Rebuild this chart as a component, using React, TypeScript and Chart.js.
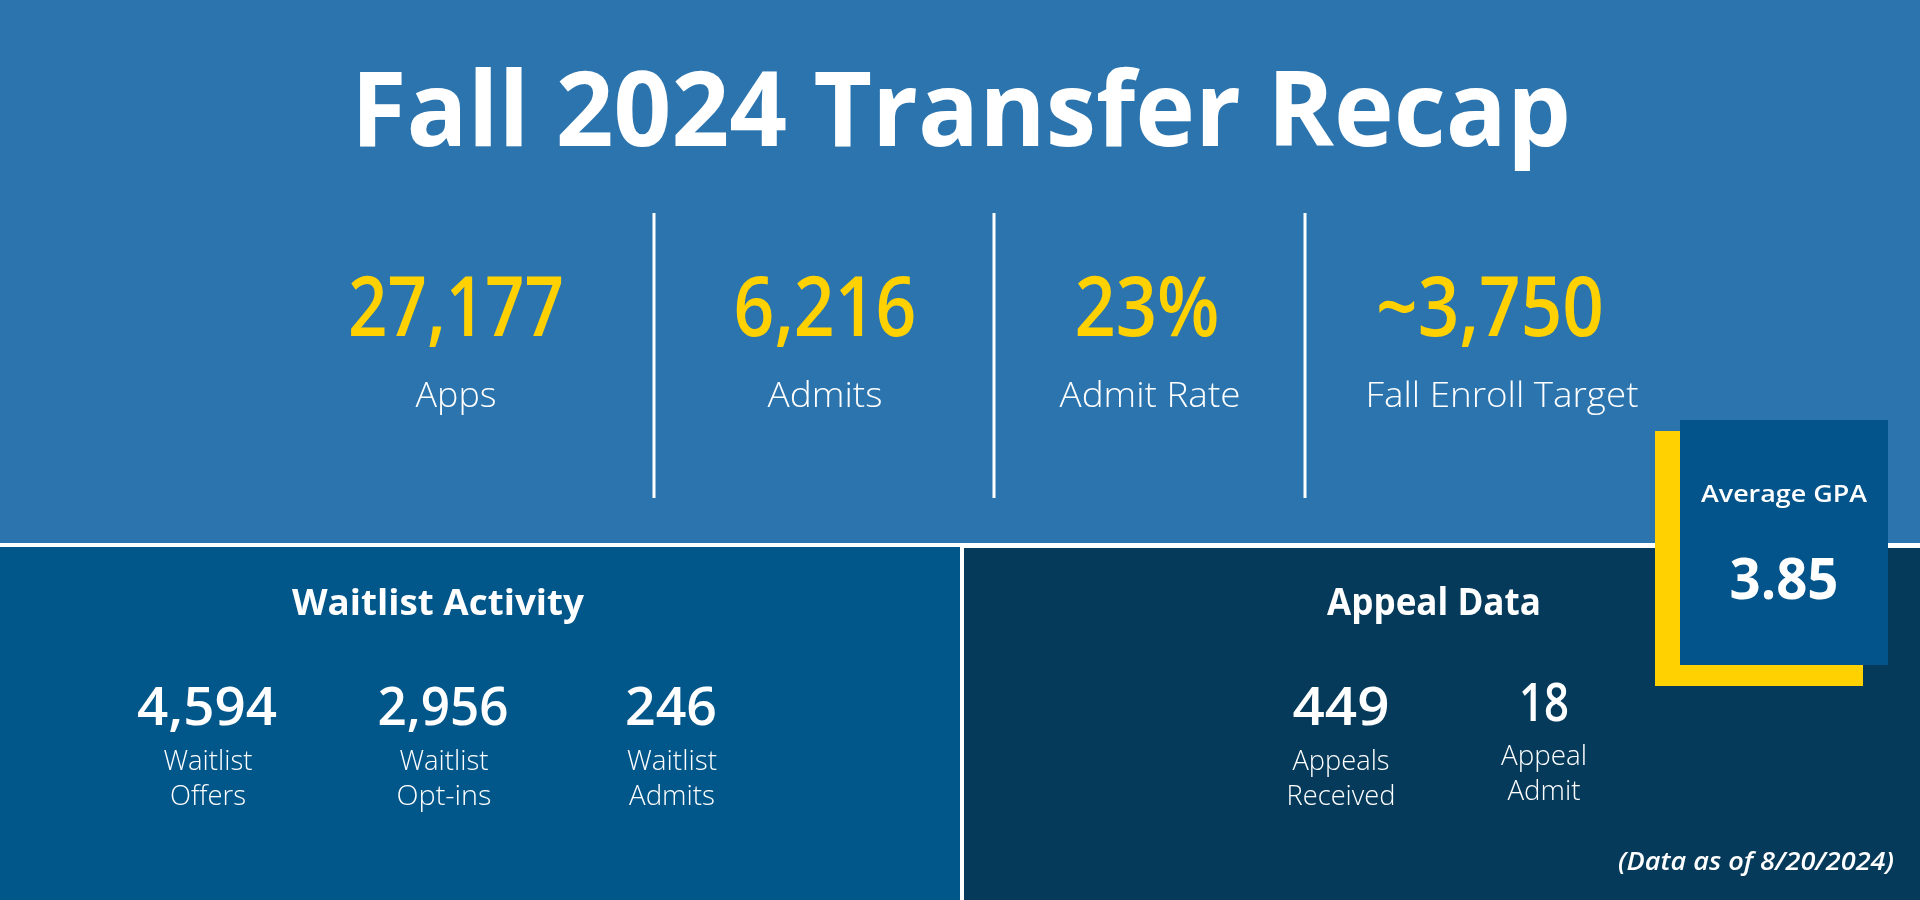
import React, { useEffect, useRef } from "react";
import { Chart, registerables } from "chart.js";

Chart.register(...registerables);

// ---------- data ----------
const titleText = "Fall 2024 Transfer Recap";
const topValues = [27177, 6216, 23, 3750];
const topLabels = ["Apps", "Admits", "Admit Rate", "Fall Enroll Target"];
const waitlistTitle = "Waitlist Activity";
const waitlistValues = [4594, 2956, 246];
const waitlistLabels = [
  ["Waitlist", "Offers"],
  ["Waitlist", "Opt-ins"],
  ["Waitlist", "Admits"],
];
const appealTitle = "Appeal Data";
const appealValues = [449, 18];
const appealLabels = [
  ["Appeals", "Received"],
  ["Appeal", "Admit"],
];
const gpaLabel = "Average GPA";
const gpaValue = 3.85;
const dataNote = "(Data as of 8/20/2024)";

// ---------- formatting ----------
const fmt = (n: number) => n.toLocaleString("en-US");
const topFormat = [
  (n: number) => fmt(n),
  (n: number) => fmt(n),
  (n: number) => `${n}%`,
  (n: number) => `~${fmt(n)}`,
];

// ---------- layout & styles ----------
const W = 1920;
const H = 900;
const FONT = '"Open Sans", "Noto Sans", sans-serif';
const C = {
  top: "#2b74ae",
  left: "#01568a",
  right: "#053a5b",
  gpaBox: "#03548a",
  yellow: "#ffd100",
  white: "#ffffff",
};
const topLayout = {
  centers: [456, 825, 1147, 1490],
  labelCenters: [456, 825, 1150, 1502],
  valueWidths: [216, 183, 145, 228],
  labelWidths: [81, 115, 181, 273],
  valueBaseline: 336,
  labelBaseline: 407,
  dividers: [654, 994, 1305],
};
const waitLayout = {
  titleX: 438,
  centers: [207, 443, 671],
  valueWidths: [140, 131, 92],
  labelWidths: [
    [89, 76],
    [89, 95],
    [90, 86],
  ],
};
const appealLayout = {
  titleX: 1434,
  centers: [1341, 1544],
  valueBaselines: [725, 721],
  valueWidths: [97, 50],
  labelBaselines: [
    [770, 805],
    [765, 800],
  ],
  labelWidths: [
    [97, 109],
    [86, 73],
  ],
};

type TextOpts = {
  size: number;
  weight?: number | string;
  style?: string;
  width?: number;
  align?: "center" | "right" | "left";
  color?: string;
};

function drawText(
  ctx: CanvasRenderingContext2D,
  text: string,
  x: number,
  y: number,
  o: TextOpts
) {
  ctx.save();
  ctx.font = `${o.style || "normal"} ${o.weight || 400} ${o.size}px ${FONT}`;
  ctx.fillStyle = o.color || C.white;
  ctx.textBaseline = "alphabetic";
  ctx.textAlign = o.align || "center";
  const w = ctx.measureText(text).width;
  const sx = o.width && w > 0 ? o.width / w : 1;
  ctx.translate(x, y);
  ctx.scale(sx, 1);
  ctx.fillText(text, 0, 0);
  ctx.restore();
}

const infographicPlugin = {
  id: "infographic",
  beforeDraw(chart: Chart) {
    const ctx = chart.ctx;
    ctx.save();
    // backgrounds
    ctx.fillStyle = C.top;
    ctx.fillRect(0, 0, W, 546);
    ctx.fillStyle = C.white;
    ctx.fillRect(0, 543, W, 4);
    ctx.fillStyle = C.left;
    ctx.fillRect(0, 547, 960, H - 547);
    ctx.fillStyle = C.white;
    ctx.fillRect(960, 545, 4, H - 545);
    ctx.fillStyle = C.right;
    ctx.fillRect(964, 548, W - 964, H - 548);

    // top dividers
    ctx.fillStyle = C.white;
    topLayout.dividers.forEach((x) => ctx.fillRect(x - 1.5, 213, 3, 285));

    // title
    drawText(ctx, titleText, 961, 146, { size: 104, weight: 700, width: 1220 });

    // top stats
    topValues.forEach((v, i) => {
      drawText(ctx, topFormat[i](v), topLayout.centers[i], topLayout.valueBaseline, {
        size: 83,
        weight: 600,
        width: topLayout.valueWidths[i],
        color: C.yellow,
      });
      drawText(ctx, topLabels[i], topLayout.labelCenters[i], topLayout.labelBaseline, {
        size: 35,
        weight: 300,
        width: topLayout.labelWidths[i],
      });
    });

    // waitlist
    drawText(ctx, waitlistTitle, waitLayout.titleX, 615, { size: 36, weight: 700, width: 292 });
    waitlistValues.forEach((v, i) => {
      const cx = waitLayout.centers[i];
      drawText(ctx, fmt(v), cx, 725, { size: 52, weight: 600, width: waitLayout.valueWidths[i] });
      waitlistLabels[i].forEach((t, j) => {
        drawText(ctx, t, cx + 1, j === 0 ? 770 : 805, {
          size: 28,
          weight: 300,
          width: waitLayout.labelWidths[i][j],
        });
      });
    });

    // appeals
    drawText(ctx, appealTitle, appealLayout.titleX, 615, { size: 37, weight: 700, width: 214 });
    appealValues.forEach((v, i) => {
      const cx = appealLayout.centers[i];
      drawText(ctx, fmt(v), cx, appealLayout.valueBaselines[i], {
        size: 52,
        weight: 600,
        width: appealLayout.valueWidths[i],
      });
      appealLabels[i].forEach((t, j) => {
        drawText(ctx, t, cx, appealLayout.labelBaselines[i][j], {
          size: 28,
          weight: 300,
          width: appealLayout.labelWidths[i][j],
        });
      });
    });

    // GPA callout
    ctx.fillStyle = C.yellow;
    ctx.fillRect(1655, 431, 208, 255);
    ctx.fillStyle = C.gpaBox;
    ctx.fillRect(1680, 420, 208, 245);
    drawText(ctx, gpaLabel, 1784, 502, { size: 24, weight: 600, width: 166 });
    drawText(ctx, gpaValue.toFixed(2), 1784, 599, { size: 57, weight: 700, width: 109 });

    // note
    drawText(ctx, dataNote, 1894, 870, {
      size: 25,
      weight: 600,
      style: "italic",
      width: 276,
      align: "right",
    });
    ctx.restore();
  },
};

export default function App() {
  const ref = useRef<HTMLCanvasElement | null>(null);
  useEffect(() => {
    let chart: Chart | null = null;
    let cancelled = false;
    const make = () => {
      if (cancelled || !ref.current) return;
      chart = new Chart(ref.current, {
        type: "bar",
        data: { labels: [], datasets: [] },
        options: {
          responsive: false,
          animation: false,
          devicePixelRatio: 1,
          layout: { padding: 0 },
          plugins: { legend: { display: false }, tooltip: { enabled: false } },
          scales: { x: { display: false }, y: { display: false } },
        },
        plugins: [infographicPlugin],
      });
    };
    const loads = [
      `700 104px "Open Sans"`,
      `600 83px "Open Sans"`,
      `300 35px "Open Sans"`,
      `400 35px "Open Sans"`,
      `italic 600 25px "Open Sans"`,
    ].map((f) => (document.fonts ? document.fonts.load(f).catch(() => null) : null));
    Promise.all(loads).then(make, make);
    return () => {
      cancelled = true;
      if (chart) chart.destroy();
    };
  }, []);
  return (
    <div style={{ position: "fixed", left: 0, top: 0, width: W, height: H }}>
      <canvas ref={ref} width={W} height={H} style={{ display: "block", width: W, height: H }} />
    </div>
  );
}
